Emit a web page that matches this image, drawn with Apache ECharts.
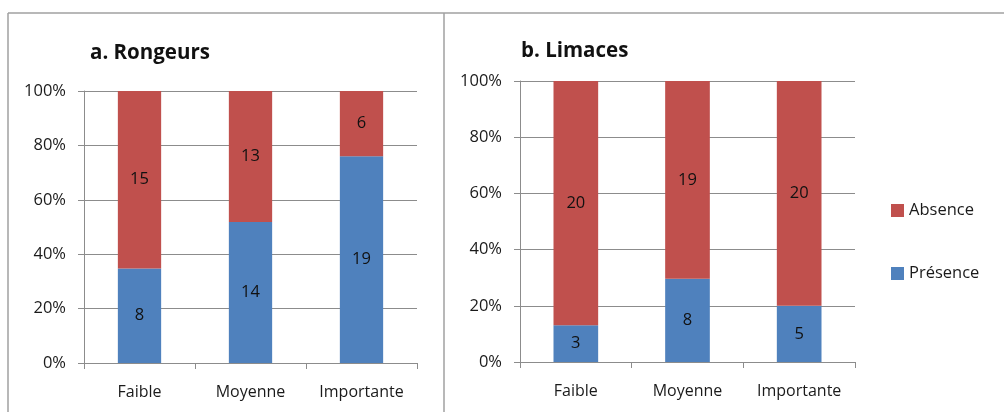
<!DOCTYPE html>
<html><head><meta charset="utf-8">
<script src="https://cdn.jsdelivr.net/npm/echarts@6/dist/echarts.min.js"></script>
<style>html,body{margin:0;padding:0;background:#fff}#c{width:1004px;height:412px}</style>
</head><body><div id="c"></div>
<script>
const categories = ['Faible', 'Moyenne', 'Importante'];
const rongeursPresence = [8, 14, 19];
const rongeursAbsence = [15, 13, 6];
const limacesPresence = [3, 8, 5];
const limacesAbsence = [20, 19, 20];
const yTicks = [0, 20, 40, 60, 80, 100];
const titles = ['a. Rongeurs', 'b. Limaces'];
const legendNames = ['Absence', 'Présence'];

const RED = '#C0504D', BLUE = '#4F81BD', GRAY = '#8c8c8c';
const FONT = '"Open Sans", sans-serif';

function pct(part, other) { return part.map((v, i) => ({ value: v / (v + other[i]) * 100, count: v })); }

const chart = echarts.init(document.getElementById('c'));
const grids = [
  { left: 84, top: 91, width: 333, height: 272 },
  { left: 520, top: 81, width: 335, height: 281 }
];
function xAx(i) {
  return {
    type: 'category', gridIndex: i, data: categories,
    axisLine: { lineStyle: { color: GRAY, width: 1 } },
    axisTick: { show: true, alignWithLabel: false, length: 6, lineStyle: { color: GRAY } },
    axisLabel: { color: '#1a1a1a', fontFamily: FONT, fontSize: 16, margin: 21, interval: 0, hideOverlap: false }
  };
}
function yAx(i) {
  return {
    type: 'value', gridIndex: i, min: yTicks[0], max: yTicks[yTicks.length - 1], interval: 20,
    axisLine: { show: true, lineStyle: { color: GRAY } },
    axisTick: { show: true, length: 6, lineStyle: { color: GRAY } },
    splitLine: { lineStyle: { color: GRAY } },
    axisLabel: { color: '#1a1a1a', fontFamily: FONT, fontSize: 16.5, margin: 18, formatter: '{value}%' }
  };
}
function ser(name, data, i, color, bw) {
  return {
    name, type: 'bar', stack: 's' + i, xAxisIndex: i, yAxisIndex: i, data, barWidth: bw,
    itemStyle: { color }, animation: false,
    label: { show: true, position: 'inside', color: '#111', fontFamily: FONT, fontSize: 16.5,
      formatter: p => p.data.count }
  };
}
chart.setOption({
  animation: false,
  grid: grids,
  title: [
    { text: titles[0], left: 85, top: 38, textStyle: { fontFamily: FONT, fontSize: 20.5, fontWeight: 'bold', color: '#111' } },
    { text: titles[1], left: 516, top: 36, textStyle: { fontFamily: FONT, fontSize: 20.5, fontWeight: 'bold', color: '#111' } }
  ],
  xAxis: [xAx(0), xAx(1)],
  yAxis: [yAx(0), yAx(1)],
  legend: {
    data: legendNames, orient: 'vertical', left: 886, top: 197, itemWidth: 13, itemHeight: 13,
    itemGap: 46, icon: 'rect',
    textStyle: { fontFamily: FONT, fontSize: 16.5, color: '#1a1a1a', padding: [0, 0, 0, 0] }
  },
  series: [
    ser('Présence', pct(rongeursPresence, rongeursAbsence), 0, BLUE, '39%'),
    ser('Absence', pct(rongeursAbsence, rongeursPresence), 0, RED, '39%'),
    ser('Présence', pct(limacesPresence, limacesAbsence), 1, BLUE, '40%'),
    ser('Absence', pct(limacesAbsence, limacesPresence), 1, RED, '40%')
  ],
  graphic: [
    { type: 'line', shape: { x1: 8, y1: 13, x2: 1004, y2: 13 }, style: { stroke: '#a0a0a0', lineWidth: 1.5 } },
    { type: 'line', shape: { x1: 8, y1: 13, x2: 8, y2: 412 }, style: { stroke: '#a0a0a0', lineWidth: 1.5 } },
    { type: 'line', shape: { x1: 444, y1: 13, x2: 444, y2: 412 }, style: { stroke: '#a0a0a0', lineWidth: 1.5 } }
  ]
});
</script></body></html>
